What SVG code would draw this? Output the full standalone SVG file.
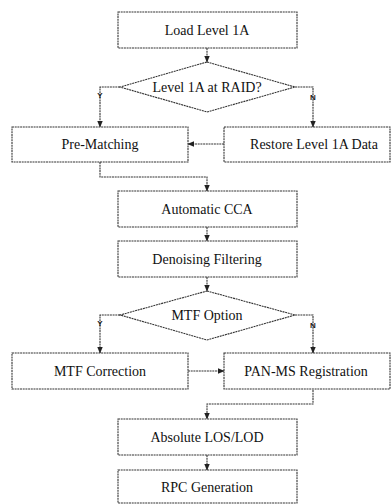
<svg xmlns="http://www.w3.org/2000/svg" width="391" height="504" viewBox="0 0 391 504">
<defs>
<style>
.box{fill:#fff;stroke:#333;stroke-width:1.1;stroke-dasharray:2 0.7}
.t{font-family:'Liberation Serif','Times New Roman',serif;font-size:14px;fill:#111;text-anchor:middle}
.c{fill:none;stroke:#333;stroke-width:1.1;stroke-dasharray:2 0.7}
.lb{font-family:'Liberation Sans',Arial,sans-serif;font-size:8px;font-weight:bold;fill:#222;text-anchor:middle}
</style>
<marker id="ah" viewBox="0 0 10 10" refX="9" refY="5" markerWidth="7" markerHeight="7" orient="auto" markerUnits="userSpaceOnUse">
<path d="M0,1 L10,5 L0,9 Z" fill="#222"/>
</marker>
</defs>
<rect width="391" height="504" fill="#fff"/>
<g id="connectors">
<line class="c" x1="207" y1="48" x2="207" y2="62" marker-end="url(#ah)"/>
<polyline class="c" points="120,87 100,87 100,127" marker-end="url(#ah)"/>
<polyline class="c" points="295,87 313,87 313,127" marker-end="url(#ah)"/>
<line class="c" x1="224" y1="144" x2="188" y2="144" marker-end="url(#ah)"/>
<polyline class="c" points="100,162 100,177 207,177 207,191" marker-end="url(#ah)"/>
<line class="c" x1="207" y1="227" x2="207" y2="241" marker-end="url(#ah)"/>
<line class="c" x1="207" y1="277" x2="207" y2="291" marker-end="url(#ah)"/>
<polyline class="c" points="120,315 100,315 100,353" marker-end="url(#ah)"/>
<polyline class="c" points="295,315 313,315 313,353" marker-end="url(#ah)"/>
<line class="c" x1="188" y1="371" x2="224" y2="371" marker-end="url(#ah)"/>
<polyline class="c" points="313,390 313,404 207,404 207,419" marker-end="url(#ah)"/>
<line class="c" x1="207" y1="455" x2="207" y2="470" marker-end="url(#ah)"/>
<text class="lb" x="100" y="98">Y</text>
<text class="lb" x="313" y="100">N</text>
<text class="lb" x="100" y="326">Y</text>
<text class="lb" x="313" y="328">N</text>
</g>
<g id="load"><rect class="box" x="118" y="12" width="179" height="36"/><text class="t" x="207" y="35">Load Level 1A</text></g>
<g id="raid"><polygon class="box" points="207,62 295,87 207,112 120,87"/><text class="t" x="207" y="92">Level 1A at RAID?</text></g>
<g id="prematch"><rect class="box" x="12" y="127" width="176" height="35"/><text class="t" x="100" y="149">Pre-Matching</text></g>
<g id="restore"><rect class="box" x="224" y="127" width="166" height="35"/><text class="t" x="314" y="149">Restore Level 1A Data</text></g>
<g id="cca"><rect class="box" x="118" y="191" width="179" height="36"/><text class="t" x="207" y="214">Automatic CCA</text></g>
<g id="denoise"><rect class="box" x="118" y="241" width="179" height="36"/><text class="t" x="207" y="264">Denoising Filtering</text></g>
<g id="mtfopt"><polygon class="box" points="207,291 295,315 207,340 120,315"/><text class="t" x="207" y="320">MTF Option</text></g>
<g id="mtfcorr"><rect class="box" x="12" y="353" width="176" height="36"/><text class="t" x="100" y="376">MTF Correction</text></g>
<g id="panms"><rect class="box" x="224" y="353" width="166" height="36"/><text class="t" x="306" y="376">PAN-MS Registration</text></g>
<g id="los"><rect class="box" x="118" y="419" width="179" height="36"/><text class="t" x="207" y="442">Absolute LOS/LOD</text></g>
<g id="rpc"><rect class="box" x="118" y="470" width="179" height="33"/><text class="t" x="207" y="492">RPC Generation</text></g>
</svg>
